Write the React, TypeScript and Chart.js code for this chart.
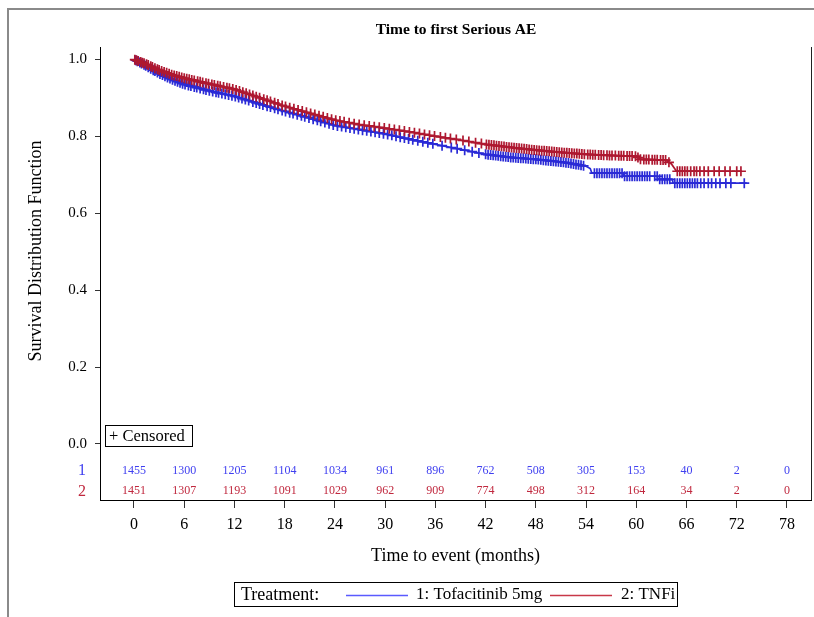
import React, { useEffect, useRef } from "react";
import { Chart, registerables } from "chart.js";

Chart.register(...registerables);

const FONT = '"Liberation Serif", "DejaVu Serif", "Times New Roman", serif';

const chartTitle = "Time to first Serious AE";
const xTitle = "Time to event (months)";
const yTitle = "Survival Distribution Function";

const xTicks = [0, 6, 12, 18, 24, 30, 36, 42, 48, 54, 60, 66, 72, 78];
const yTicks = [0, 0.2, 0.4, 0.6, 0.8, 1.0];

const groupLabels = ["1", "2"];
const legendNames = ["1: Tofacitinib 5mg", "2: TNFi"];

const atRiskTofa = [1455, 1300, 1205, 1104, 1034, 961, 896, 762, 508, 305, 153, 40, 2, 0];
const atRiskTnfi = [1451, 1307, 1193, 1091, 1029, 962, 909, 774, 498, 312, 164, 34, 2, 0];

// Kaplan-Meier curve readings (months, survival)
const tofaTime = [0, 1.5, 3, 4.5, 6, 9, 12, 15, 18, 21, 24, 27, 30, 33, 36, 39, 42, 45, 48, 51, 52, 54, 54.5, 54.7, 58.4, 58.5, 62.5, 62.6, 64.3, 64.4, 73.2];
const tofaSurv = [1.0, 0.982, 0.963, 0.948, 0.935, 0.918, 0.904, 0.884, 0.865, 0.847, 0.828, 0.817, 0.806, 0.792, 0.779, 0.766, 0.753, 0.745, 0.740, 0.733, 0.730, 0.722, 0.716, 0.704, 0.704, 0.696, 0.696, 0.688, 0.688, 0.678, 0.678];

const tnfiTime = [0, 1.5, 3, 4.5, 6, 9, 12, 15, 18, 21, 24, 27, 30, 33, 36, 39, 42, 45, 48, 51, 54, 57, 60, 60.5, 63.5, 64.2, 64.8, 72.6];
const tnfiSurv = [1.0, 0.987, 0.972, 0.960, 0.951, 0.936, 0.922, 0.900, 0.878, 0.860, 0.842, 0.830, 0.821, 0.811, 0.800, 0.790, 0.779, 0.771, 0.764, 0.758, 0.753, 0.750, 0.748, 0.740, 0.738, 0.728, 0.709, 0.709];

// Censoring times (months)
const tofaCensor = [
  0.2, 0.4, 0.7, 0.9, 1.2, 1.4, 1.7, 2.0, 2.3, 2.5, 2.8, 3.1, 3.4, 3.7, 4.0, 4.3, 4.6, 4.9, 5.2, 5.5,
  5.8, 6.1, 6.5, 6.8, 7.2, 7.5, 7.9, 8.3, 8.6, 9.0, 9.4, 9.8, 10.1, 10.5, 10.9, 11.3, 11.7, 12.1,
  12.5, 12.9, 13.3, 13.7, 14.2, 14.6, 15.0, 15.4, 15.9, 16.3, 16.8, 17.2, 17.7,
  18.1, 18.6, 19.0, 19.5, 20.0, 20.4, 20.9, 21.4, 21.9, 22.3, 22.8, 23.3, 23.8, 24.3, 24.8, 25.3,
  25.8, 26.3, 26.8, 27.3, 27.8, 28.3, 28.8, 29.3, 29.8, 30.3, 30.8, 31.3, 31.8, 32.3, 32.8, 33.3,
  33.9, 34.5, 35.1, 35.7,
  36.8, 37.9, 38.6, 39.5, 40.4, 41.2,
  42.0, 42.3, 42.6, 42.9, 43.2, 43.5, 43.8, 44.1, 44.4, 44.7, 45.0, 45.3, 45.6, 45.9, 46.2, 46.5,
  46.8, 47.1, 47.4, 47.7, 48.0, 48.3, 48.6, 48.9, 49.2, 49.5, 49.8, 50.1, 50.4, 50.7, 51.0, 51.3,
  51.6, 51.9, 52.2, 52.5, 52.8, 53.1, 53.4, 53.7,
  55.0, 55.3, 55.6, 55.9, 56.2, 56.5, 56.8, 57.1, 57.4, 57.7, 58.0, 58.3, 58.6, 58.9, 59.2, 59.5,
  59.8, 60.1, 60.4, 60.7, 61.0, 61.3, 61.6, 62.2, 62.5, 62.8, 63.1, 63.4, 63.7, 64.0,
  64.6, 64.9, 65.2, 65.5, 65.8, 66.1, 66.4, 66.7, 67.0, 67.3, 67.7, 68.1, 68.6, 69.0, 69.5, 70.0,
  70.7, 71.3, 72.9,
];
const tnfiCensor = [
  0.1, 0.3, 0.5, 0.8, 1.0, 1.2, 1.5, 1.7, 2.0, 2.2, 2.5, 2.8, 3.0, 3.3, 3.6, 3.9, 4.2, 4.5, 4.8, 5.1,
  5.4, 5.7, 6.0, 6.3, 6.6, 6.9, 7.2, 7.6, 7.9, 8.2, 8.6, 8.9, 9.3, 9.6, 10.0, 10.3, 10.7, 11.1, 11.4,
  11.8, 12.2, 12.6, 13.0, 13.4, 13.8, 14.2, 14.6, 15.0, 15.5, 15.9, 16.3, 16.8, 17.2, 17.7,
  18.1, 18.6, 19.1, 19.6, 20.1, 20.6, 21.1, 21.6, 22.1, 22.6, 23.1, 23.6, 24.1, 24.6, 25.1, 25.7,
  26.3, 26.9, 27.5, 28.1, 28.7, 29.3, 29.9, 30.5, 31.1, 31.7, 32.3, 32.9, 33.5, 34.1, 34.7, 35.3, 35.9,
  36.6, 37.2, 37.8, 38.5, 39.3, 40.0, 40.8, 41.5,
  42.1, 42.4, 42.7, 43.0, 43.3, 43.6, 43.9, 44.2, 44.5, 44.8, 45.1, 45.4, 45.7, 46.0, 46.3, 46.6,
  46.9, 47.2, 47.5, 47.8, 48.1, 48.4, 48.7, 49.0, 49.3, 49.6, 49.9, 50.2, 50.5, 50.8, 51.1, 51.4,
  51.7, 52.0, 52.3, 52.6, 52.9, 53.2, 53.5, 53.8,
  54.2, 54.5, 54.8, 55.1, 55.5, 55.8, 56.1, 56.5, 56.8, 57.1, 57.5, 57.9, 58.2, 58.5, 58.9, 59.2,
  59.5, 59.9, 60.2, 60.5, 60.9, 61.2, 61.5, 61.9, 62.2, 62.5, 62.9, 63.2, 63.5, 63.9,
  64.9, 65.2, 65.5, 65.8, 66.1, 66.5, 66.9, 67.2, 67.6, 68.1, 68.6, 69.3, 69.9, 70.6, 71.2, 72.0, 72.5,
];

const BLUE = "#2a2ad6";
const RED = "#ae1830";
const BLUE_TXT = "#4040f0";
const RED_TXT = "#c0283e";
const BLUE_LEG = "#5a5aff";
const RED_LEG = "#c83848";

function curvePoints(times: number[], surv: number[]) {
  return times.map((t, i) => ({ x: t, y: surv[i] }));
}

// place censor marks on the drawn curve
function survAt(times: number[], surv: number[], t: number) {
  for (let i = times.length - 1; i >= 0; i--) {
    if (times[i] <= t) {
      if (i === times.length - 1) return surv[i];
      const t0 = times[i], t1 = times[i + 1];
      if (t1 === t0) return surv[i + 1];
      return surv[i] + ((surv[i + 1] - surv[i]) * (t - t0)) / (t1 - t0);
    }
  }
  return surv[0];
}

function censorPoints(cens: number[], times: number[], surv: number[]) {
  return cens.map((t) => ({ x: t, y: survAt(times, surv, t) }));
}

const decorPlugin = {
  id: "decor",
  afterDraw(chart: any) {
    const { ctx, chartArea, scales } = chart;
    const xs = scales.x;
    ctx.save();

    // outer frame
    ctx.strokeStyle = "#8a8a8a";
    ctx.lineWidth = 2;
    ctx.beginPath();
    ctx.moveTo(8, 617);
    ctx.lineTo(8, 9);
    ctx.lineTo(814, 9);
    ctx.stroke();

    // right border of plot
    ctx.strokeStyle = "#222";
    ctx.lineWidth = 1;
    ctx.beginPath();
    ctx.moveTo(Math.round(chartArea.right) + 0.5, chartArea.top);
    ctx.lineTo(Math.round(chartArea.right) + 0.5, chartArea.bottom);
    ctx.stroke();

    // title
    ctx.fillStyle = "#000";
    ctx.font = `bold 15.5px ${FONT}`;
    ctx.textAlign = "center";
    ctx.textBaseline = "middle";
    ctx.fillText(chartTitle, 456, 30);

    // y title
    ctx.save();
    ctx.translate(36, 251);
    ctx.rotate(-Math.PI / 2);
    ctx.font = `18px ${FONT}`;
    ctx.fillText(yTitle, 0, 0);
    ctx.restore();

    // censored box
    ctx.strokeStyle = "#000";
    ctx.lineWidth = 1;
    ctx.strokeRect(105.5, 425.5, 87, 21);
    ctx.font = `16.5px ${FONT}`;
    ctx.textAlign = "left";
    ctx.fillText("+ Censored", 109, 436.5);

    // at-risk table
    ctx.textAlign = "center";
    ctx.font = `16px ${FONT}`;
    ctx.fillStyle = BLUE_TXT;
    ctx.fillText(groupLabels[0], 82, 471);
    ctx.fillStyle = RED_TXT;
    ctx.fillText(groupLabels[1], 82, 492);
    ctx.font = `12px ${FONT}`;
    xTicks.forEach((t, i) => {
      const px = xs.getPixelForValue(t);
      ctx.fillStyle = BLUE_TXT;
      ctx.fillText(String(atRiskTofa[i]), px, 471);
      ctx.fillStyle = RED_TXT;
      ctx.fillText(String(atRiskTnfi[i]), px, 491);
    });

    // bottom legend
    ctx.strokeStyle = "#000";
    ctx.lineWidth = 1;
    ctx.strokeRect(234.5, 582.5, 443, 24);
    ctx.fillStyle = "#000";
    ctx.textAlign = "left";
    ctx.font = `18px ${FONT}`;
    ctx.fillText("Treatment:", 241, 595);
    ctx.font = `17px ${FONT}`;
    ctx.lineWidth = 1.4;
    ctx.strokeStyle = BLUE_LEG;
    ctx.beginPath();
    ctx.moveTo(346, 595.5);
    ctx.lineTo(408, 595.5);
    ctx.stroke();
    ctx.fillText(legendNames[0], 416, 595);
    ctx.strokeStyle = RED_LEG;
    ctx.beginPath();
    ctx.moveTo(550, 595.5);
    ctx.lineTo(612, 595.5);
    ctx.stroke();
    ctx.fillText(legendNames[1], 621, 595);

    ctx.restore();
  },
};

export default function App() {
  const ref = useRef<HTMLCanvasElement | null>(null);

  useEffect(() => {
    if (!ref.current) return;
    const chart = new Chart(ref.current, {
      type: "line",
      data: {
        datasets: [
          {
            label: "TNFi censored",
            data: censorPoints(tnfiCensor, tnfiTime, tnfiSurv),
            showLine: false,
            pointStyle: "cross",
            pointRadius: 5,
            pointBorderWidth: 1.7,
            borderColor: RED,
            backgroundColor: RED,
            order: 0,
          },
          {
            label: legendNames[1],
            data: curvePoints(tnfiTime, tnfiSurv),
            borderColor: RED,
            borderWidth: 1.7,
            pointRadius: 0,
            tension: 0,
            fill: false,
            order: 1,
          },
          {
            label: "Tofacitinib censored",
            data: censorPoints(tofaCensor, tofaTime, tofaSurv),
            showLine: false,
            pointStyle: "cross",
            pointRadius: 5,
            pointBorderWidth: 1.7,
            borderColor: BLUE,
            backgroundColor: BLUE,
            order: 2,
          },
          {
            label: legendNames[0],
            data: curvePoints(tofaTime, tofaSurv),
            borderColor: BLUE,
            borderWidth: 1.7,
            pointRadius: 0,
            tension: 0,
            fill: false,
            order: 3,
          },
        ],
      },
      options: {
        responsive: false,
        animation: false,
        devicePixelRatio: 1,
        layout: { autoPadding: false, padding: { left: 0, top: 47, right: 3, bottom: 47 } },
        plugins: {
          legend: { display: false },
          title: { display: false },
          tooltip: { enabled: false },
        },
        scales: {
          x: {
            type: "linear",
            min: -4.06,
            max: 80.87,
            afterBuildTicks: (s: any) => {
              s.ticks = xTicks.map((v) => ({ value: v }));
            },
            afterFit: (s: any) => {
              s.height = 70;
              s.paddingLeft = 0;
              s.paddingRight = 0;
            },
            ticks: {
              font: { family: FONT, size: 16 },
              color: "#000",
              padding: 7,
              maxRotation: 0,
              autoSkip: false,
            },
            grid: {
              drawOnChartArea: false,
              drawTicks: true,
              tickLength: 8,
              color: "#333",
            },
            border: { display: true, color: "#000", width: 1 },
            title: {
              display: true,
              text: xTitle,
              font: { family: FONT, size: 18 },
              color: "#000",
              padding: { top: 0, bottom: 3 },
            },
          },
          y: {
            type: "linear",
            min: -0.1456,
            max: 1.032,
            afterBuildTicks: (s: any) => {
              s.ticks = yTicks.map((v) => ({ value: v }));
            },
            afterFit: (s: any) => {
              s.width = 100;
              s.paddingTop = 0;
              s.paddingBottom = 0;
            },
            ticks: {
              font: { family: FONT, size: 15 },
              color: "#000",
              padding: 8,
              callback: (v: any) => Number(v).toFixed(1),
            },
            grid: {
              drawOnChartArea: false,
              drawTicks: true,
              tickLength: 5,
              color: "#333",
            },
            border: { display: true, color: "#000", width: 1 },
            title: { display: false },
          },
        },
      },
      plugins: [decorPlugin],
    });
    return () => chart.destroy();
  }, []);

  return (
    <div style={{ position: "fixed", left: 0, top: 0, width: 814, height: 617, background: "#fff" }}>
      <canvas ref={ref} width={814} height={617} style={{ width: 814, height: 617, display: "block" }} />
    </div>
  );
}
